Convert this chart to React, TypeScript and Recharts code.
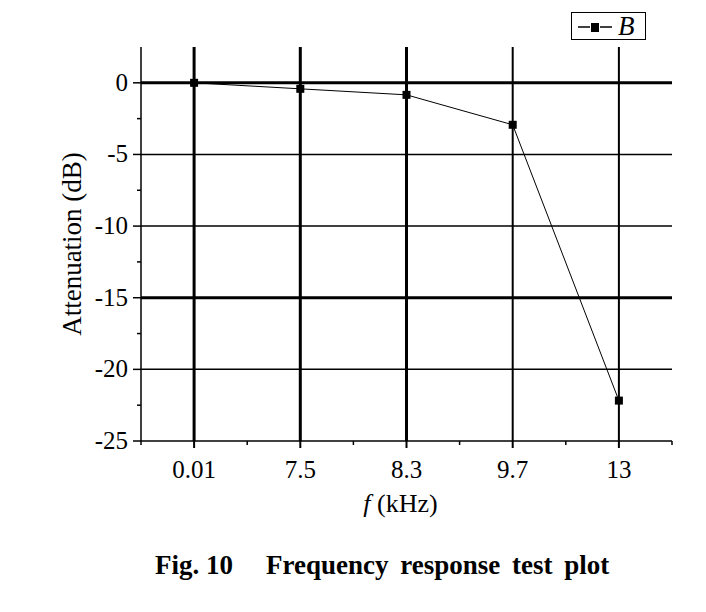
import React from 'react';
import { LineChart, Line, XAxis, YAxis, ReferenceLine, Label } from 'recharts';

const categories = ['0.01', '7.5', '8.3', '9.7', '13'];
const attenuationB = [0, -0.42, -0.84, -2.93, -22.18];
const yMajorTicks = [-25, -20, -15, -10, -5, 0];
const yMinorTicks = [-22.5, -17.5, -12.5, -7.5, -2.5];
const yGridValues = [0, -5, -10, -15, -20];

const data = categories.map((f, i) => ({ pos: i, f, B: attenuationB[i] }));
const xMajor = categories.map((_, i) => i);
const xMinor = [-0.5, ...categories.map((_, i) => i + 0.5)];
const xTicks = [...xMinor, ...xMajor].sort((a, b) => a - b);
const yTicks = [...yMajorTicks, ...yMinorTicks].sort((a, b) => a - b);

const FONT = '"Liberation Serif", "Times New Roman", serif';

const hGridWidth: Record<number, number> = { 0: 3, [-5]: 1.5, [-10]: 1.5, [-15]: 3, [-20]: 1.5 };
const vGridWidth = [3, 3, 3, 2, 2];

const XTick = (props: any) => {
  const { x, y, payload } = props;
  const v = payload.value;
  const major = Number.isInteger(v);
  return (
    <g>
      <line x1={x} x2={x} y1={y} y2={y + (major ? 7 : 4)} stroke="#000" strokeWidth={major ? 2 : 1.5} />
      {major && (
        <text x={x} y={y + 37} textAnchor="middle" fontSize={25} fontFamily={FONT} fill="#000">
          {categories[v]}
        </text>
      )}
    </g>
  );
};

const YTick = (props: any) => {
  const { x, y, payload } = props;
  const v = payload.value;
  const major = yMajorTicks.includes(v);
  return (
    <g>
      <line x1={x - (major ? 8 : 4)} x2={x} y1={y} y2={y} stroke="#000" strokeWidth={1.5} />
      {major && (
        <text x={x - 13} y={y + 8} textAnchor="end" fontSize={25} fontFamily={FONT} fill="#000">
          {String(v)}
        </text>
      )}
    </g>
  );
};

const SquareDot = (props: any) => {
  const { cx, cy } = props;
  if (cx == null || cy == null) return null;
  return <rect x={cx - 4} y={cy - 4} width={8} height={8} fill="#000" />;
};

const YLabel = (props: any) => {
  const vb = props.viewBox || {};
  const cx = 72;
  const cy = (vb.y ?? 47) + (vb.height ?? 394) / 2;
  return (
    <text
      x={cx}
      y={cy}
      transform={`rotate(-90, ${cx}, ${cy})`}
      textAnchor="middle"
      dominantBaseline="central"
      fontSize={27}
      fontFamily={FONT}
      fill="#000"
    >
      Attenuation (dB)
    </text>
  );
};

const XLabel = (props: any) => {
  const vb = props.viewBox || {};
  const cx = (vb.x ?? 141) + (vb.width ?? 531) / 2 - 6;
  const y = (vb.y ?? 441) + 71;
  return (
    <text x={cx} y={y} textAnchor="middle" fontSize={26} fontFamily={FONT} fill="#000">
      <tspan fontStyle="italic">f</tspan>
      <tspan> (kHz)</tspan>
    </text>
  );
};

export default function App() {
  return (
    <div style={{ position: 'absolute', left: 0, top: 0, width: 706, height: 612, background: '#fff' }}>
      <LineChart
        width={706}
        height={612}
        data={data}
        margin={{ top: 47, right: 34, left: 61, bottom: 111 }}
      >
        <XAxis
          dataKey="pos"
          type="number"
          domain={[-0.5, 4.5]}
          ticks={xTicks}
          interval={0}
          tick={<XTick />}
          tickLine={false}
          tickSize={0}
          tickMargin={0}
          height={60}
          axisLine={{ stroke: '#000', strokeWidth: 1.5 }}
          allowDataOverflow
        >
          <Label content={<XLabel />} />
        </XAxis>
        <YAxis
          type="number"
          domain={[-25, 2.5]}
          ticks={yTicks}
          interval={0}
          tick={<YTick />}
          tickLine={false}
          tickSize={0}
          tickMargin={0}
          width={80}
          axisLine={{ stroke: '#000', strokeWidth: 1.5 }}
          allowDataOverflow
        >
          <Label content={<YLabel />} />
        </YAxis>
        {yGridValues.map((v) => (
          <ReferenceLine key={'h' + v} y={v} stroke="#000" strokeWidth={hGridWidth[v]} />
        ))}
        {xMajor.map((v) => (
          <ReferenceLine key={'v' + v} x={v} stroke="#000" strokeWidth={vGridWidth[v]} />
        ))}
        <Line
          type="linear"
          dataKey="B"
          stroke="#000"
          strokeWidth={1}
          dot={<SquareDot />}
          activeDot={false}
          isAnimationActive={false}
        />
      </LineChart>
      <div
        style={{
          position: 'absolute',
          left: 571,
          top: 12,
          width: 73,
          height: 26,
          border: '1.5px solid #000',
          display: 'flex',
          alignItems: 'center',
          fontFamily: FONT,
          boxSizing: 'content-box',
        }}
      >
        <svg width={46} height={26} style={{ display: 'block' }}>
          <line x1={6} x2={18} y1={14} y2={14} stroke="#000" strokeWidth={1.5} />
          <line x1={28} x2={40} y1={14} y2={14} stroke="#000" strokeWidth={1.5} />
          <rect x={19} y={10} width={8} height={9} fill="#000" />
        </svg>
        <span style={{ fontStyle: 'italic', fontSize: 27, lineHeight: '26px' }}>B</span>
      </div>
      <div
        style={{
          position: 'absolute',
          left: 155,
          top: 550,
          fontFamily: FONT,
          fontWeight: 'bold',
          fontSize: 27,
          whiteSpace: 'pre',
          color: '#000',
        }}
      >
        <span>Fig. 10</span>
        <span style={{ marginLeft: 33, wordSpacing: 5 }}>Frequency response test plot</span>
      </div>
    </div>
  );
}
